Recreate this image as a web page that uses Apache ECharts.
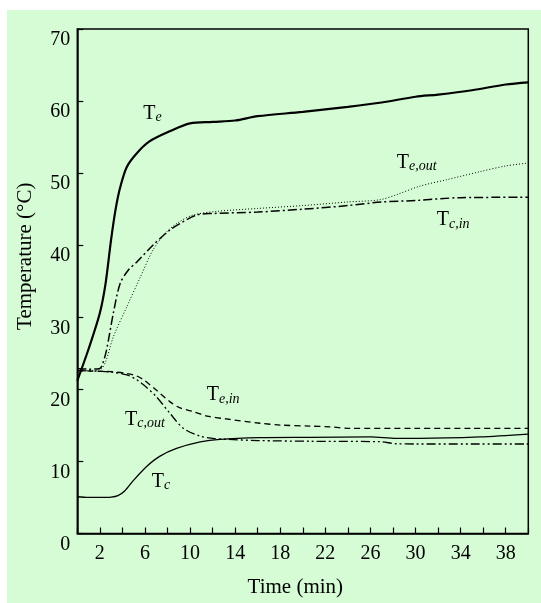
<!DOCTYPE html>
<html><head><meta charset="utf-8">
<script src="https://cdn.jsdelivr.net/npm/echarts@6/dist/echarts.min.js"></script>
<style>
html,body{margin:0;padding:0;background:#fff;}
#wrap{position:relative;width:541px;height:603px;overflow:hidden;}
#bg{position:absolute;left:7px;top:10px;width:534px;height:593px;background:#d6fcd6;}
#c{position:absolute;left:0;top:0;width:541px;height:603px;}
</style>
</head><body>
<div id="wrap"><div id="bg"></div><div id="c"></div></div>
<script>
// ---- Data (time in min, temperature in °C) ----
const teTime   = [0, 1, 2, 2.5, 3, 3.4, 3.8, 4.4, 5.3, 6.4, 8.2, 10, 12, 14, 16, 20, 24, 27, 30, 32, 35, 38, 40];
const teVals   = [21.2, 25.6, 30.6, 34.6, 40.8, 45, 48, 50.9, 52.8, 54.4, 55.8, 56.9, 57.1, 57.3, 57.9, 58.5, 59.2, 59.8, 60.6, 60.9, 61.5, 62.3, 62.6];

const teOutTime = [0, 1, 2, 2.5, 3.2, 4.4, 5.6, 6.7, 7.9, 9.1, 10.3, 12.4, 16, 20, 24, 26.8, 28.3, 30.4, 32.8, 35.7, 38, 40];
const teOutVals = [22.7, 22.6, 22.7, 23.8, 27.3, 31.5, 35.6, 39.3, 41.8, 43.3, 44.2, 44.7, 45.1, 45.5, 46.0, 46.3, 47.0, 48.2, 49.1, 50.2, 51.0, 51.4];

const tcInTime = [0, 1, 2, 2.3, 2.6, 3.2, 3.8, 4.5, 5.3, 6.7, 8.2, 9.1, 10.6, 12, 16, 20, 24, 27, 30, 34, 40];
const tcInVals = [22.9, 22.8, 22.9, 23.8, 25.5, 30.6, 34.7, 36.5, 37.7, 40.0, 42.1, 43.0, 44.2, 44.4, 44.6, 45.0, 45.5, 46.0, 46.2, 46.6, 46.65];

const teInTime = [0, 2, 3, 4.4, 5.2, 5.9, 7, 8.2, 9, 10.3, 11.5, 13.2, 16.2, 18, 20.6, 22.4, 24, 30, 35, 40];
const teInVals = [22.6, 22.5, 22.45, 22.2, 21.9, 21.3, 19.9, 18.3, 17.5, 16.9, 16.3, 15.9, 15.3, 15.05, 14.9, 14.8, 14.6, 14.6, 14.6, 14.6];

const tcOutTime = [0, 2, 3, 4.4, 5.2, 5.9, 7, 8.2, 9.4, 10.9, 12, 13.2, 16, 20.6, 26.8, 28.3, 30, 35, 40];
const tcOutVals = [22.6, 22.5, 22.4, 22.0, 21.4, 20.6, 19.0, 16.7, 14.6, 13.5, 13.2, 13.07, 12.9, 12.8, 12.74, 12.45, 12.42, 12.42, 12.42];

const tcTime   = [0, 1, 2, 3, 3.6, 4.2, 5, 6.15, 7.3, 8.8, 10.9, 12.65, 16.2, 20.6, 26, 28.3, 30.4, 35.7, 40];
const tcVals   = [5.1, 5.0, 5.0, 5.05, 5.25, 5.9, 7.4, 9.3, 10.7, 11.8, 12.7, 13.07, 13.3, 13.35, 13.4, 13.2, 13.2, 13.4, 13.8];

const yTicks = [0, 10, 20, 30, 40, 50, 60, 70];
const xLabelTicks = [2, 6, 10, 14, 18, 22, 26, 30, 34, 38];

// Curve annotations: main letter, subscript, anchor (time, temperature)
const annMain = ['T', 'T', 'T', 'T', 'T', 'T'];
const annSub  = ['e', 'e,out', 'c,in', 'e,in', 'c,out', 'c'];
const annAt   = [[5.85, 58.3], [28.33, 51.5], [31.88, 43.5], [11.48, 19.2], [4.23, 15.8], [6.6, 7.2]];

const FONT = '"Liberation Serif", "Times New Roman", serif';
const zip = (a, b) => a.map((v, i) => [v, b[i]]);

function line(name, t, v, width, type) {
  return {
    name, type: 'line', data: zip(t, v), symbol: 'none', smooth: 0.3,
    lineStyle: { color: '#000', width, type }, silent: true, animation: false
  };
}

const chart = echarts.init(document.getElementById('c'), null, { renderer: 'canvas' });
const option = {
  animation: false,
  backgroundColor: 'transparent',
  grid: {
    left: 77.3, right: 12.7, top: 29, bottom: 69.5, containLabel: false,
    show: true, borderColor: '#000', borderWidth: 1.5, backgroundColor: 'transparent'
  },
  xAxis: {
    type: 'value', min: 0, max: 40, interval: 2,
    name: 'Time (min)', nameLocation: 'middle', nameGap: 43,
    nameTextStyle: { fontFamily: FONT, fontSize: 21, color: '#000', padding: [0, 15, 0, 0] },
    axisLine: { show: true, lineStyle: { color: '#000', width: 1.5 } },
    axisTick: { show: true, inside: true, length: 6, lineStyle: { color: '#000', width: 1.2 } },
    axisLabel: {
      fontFamily: FONT, fontSize: 20, color: '#000', margin: 10,
      formatter: v => (xLabelTicks.indexOf(v) >= 0 ? String(v) : '')
    },
    splitLine: { show: false }
  },
  yAxis: {
    type: 'value', min: 0, max: 70, interval: 10,
    name: 'Temperature (°C)', nameLocation: 'middle', nameGap: 41,
    nameTextStyle: { fontFamily: FONT, fontSize: 21, color: '#000', padding: [0, 0, 0, 50] },
    axisLine: { show: true, lineStyle: { color: '#000', width: 1.5 } },
    axisTick: { show: true, inside: true, length: 6, lineStyle: { color: '#000', width: 1.2 } },
    axisLabel: {
      fontFamily: FONT, fontSize: 20, color: '#000', margin: 7,
      verticalAlign: 'top', lineHeight: 22,
      formatter: v => (yTicks.indexOf(v) >= 0 ? String(v) : '')
    },
    splitLine: { show: false }
  },
  series: [
    line('Te', teTime, teVals, 2.2, 'solid'),
    line('Te,out', teOutTime, teOutVals, 1, [1, 2]),
    line('Tc,in', tcInTime, tcInVals, 1.5, [9, 3, 2, 3]),
    line('Te,in', teInTime, teInVals, 1.3, [6, 4]),
    line('Tc,out', tcOutTime, tcOutVals, 1.3, [9, 3, 2, 3, 2, 3]),
    line('Tc', tcTime, tcVals, 1.3, 'solid')
  ]
};
chart.setOption(option);

const graphics = annMain.map((m, i) => {
  const p = chart.convertToPixel({ gridIndex: 0 }, annAt[i]);
  return {
    type: 'text', x: p[0], y: p[1], silent: true,
    style: {
      text: '{m|' + m + '}{s|' + annSub[i] + '}',
      textAlign: 'left', textVerticalAlign: 'middle', verticalAlign: 'middle',
      rich: {
        m: { fontFamily: FONT, fontSize: 20, fill: '#000', color: '#000', lineHeight: 22 },
        s: { fontFamily: FONT, fontSize: 14, fontStyle: 'italic', fill: '#000', color: '#000', lineHeight: 10, verticalAlign: 'bottom' }
      }
    }
  };
});
chart.setOption({ graphic: graphics });
</script>
</body></html>
